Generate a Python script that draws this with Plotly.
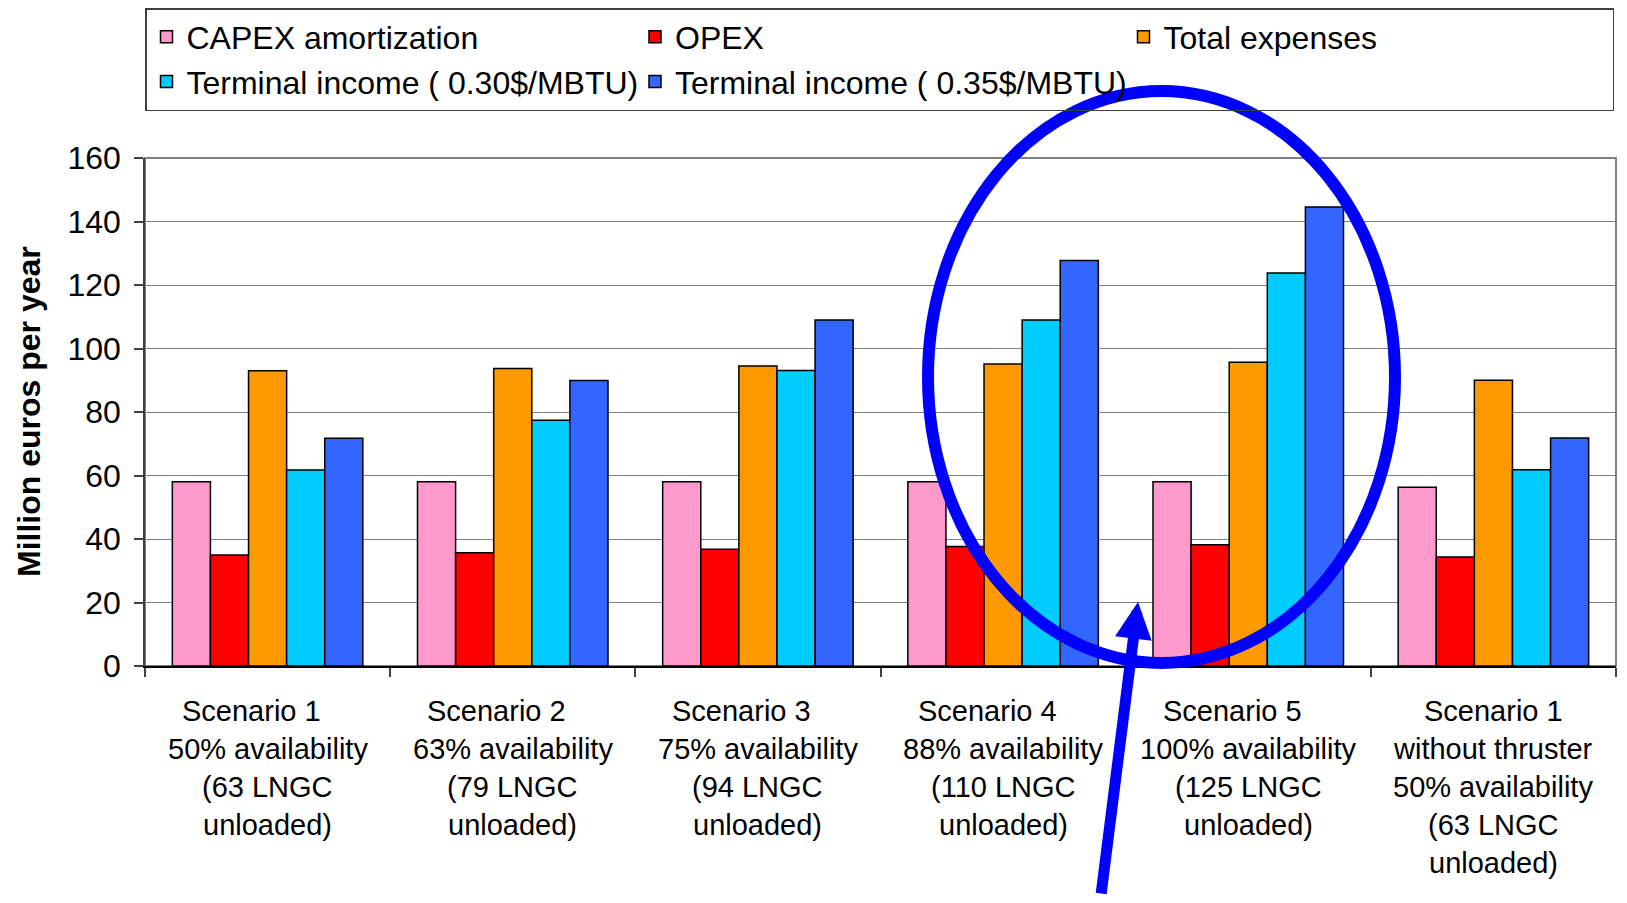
import plotly.graph_objects as go

# ---- data ----
categories = [
    "Scenario 1<br>50% availability<br>(63 LNGC<br>unloaded)",
    "Scenario 2<br>63% availability<br>(79 LNGC<br>unloaded)",
    "Scenario 3<br>75% availability<br>(94 LNGC<br>unloaded)",
    "Scenario 4<br>88% availability<br>(110 LNGC<br>unloaded)",
    "Scenario 5<br>100% availability<br>(125 LNGC<br>unloaded)",
    "Scenario 1<br>without thruster<br>50% availability<br>(63 LNGC<br>unloaded)",
]
capex = [58, 58, 58, 58, 58, 56.3]
opex = [35, 35.7, 36.8, 37.6, 38.2, 34.3]
total_expenses = [93, 93.7, 94.5, 95.1, 95.7, 90]
income_030 = [61.7, 77.4, 93.1, 109, 123.8, 61.8]
income_035 = [71.7, 89.9, 109, 127.7, 144.6, 71.8]

series_names = ["CAPEX amortization", "OPEX", "Total expenses",
                "Terminal income ( 0.30$/MBTU)", "Terminal income ( 0.35$/MBTU)"]
series_values = [capex, opex, total_expenses, income_030, income_035]
series_colors = ["#FF99CC", "#FF0000", "#FF9900", "#00CCFF", "#3366FF"]

y_ticks = [0, 20, 40, 60, 80, 100, 120, 140, 160]
y_title = "Million euros per year"

# ---- layout geometry ----
# page pixels of the target; the browser adds an 8px body margin
OFF = 8
W, H = 1627 - 2 * OFF, 903 - 2 * OFF
L, R, T, B = 145 - OFF, 1616 - OFF, 158 - OFF, 666 - OFF
FONT = "Liberation Sans, Arial, sans-serif"


def px_x(p):
    return (p - OFF - L) / (R - L)


def px_y(p):
    return (B - (p - OFF)) / (B - T)


fig = go.Figure()
for name, vals, col in zip(series_names, series_values, series_colors):
    fig.add_trace(go.Bar(
        x=categories, y=vals, name=name,
        marker=dict(color=col, line=dict(color="#000000", width=1.5)),
    ))

annotations = []
# category labels, one line at a time
for i, lab in enumerate(categories):
    lines = lab.split("<br>")
    for j, line in enumerate(lines):
        annotations.append(dict(
            x=lab, xref="x", y=0, yref="paper",
            text=line, showarrow=False,
            xanchor="center", yanchor="middle",
            yshift=-(45 + 37.9 * j),
            xshift=(-16 if (j == 0 and len(lines) == 4) else 0),
            font=dict(family=FONT, size=29, color="#000000"),
        ))

# y axis title
annotations.append(dict(
    x=px_x(29), xref="paper", y=0.5, yref="paper",
    text="<b>" + y_title + "</b>", showarrow=False, textangle=-90,
    xanchor="center", yanchor="middle",
    font=dict(family=FONT, size=32, color="#000000"),
))

# arrow
annotations.append(dict(
    x=px_x(1138), xref="paper", y=px_y(602), yref="paper",
    ax=-37, ay=305, text="", showarrow=True,
    arrowhead=2, arrowsize=0.67, arrowwidth=11, arrowcolor="#0000FF",
    standoff=0,
))

shapes = [
    dict(type="rect", xref="paper", yref="paper", x0=0, x1=1, y0=0, y1=1,
         line=dict(color="#808080", width=2), layer="below"),
    dict(type="circle", xref="paper", yref="paper",
         x0=px_x(928), x1=px_x(1395), y0=px_y(663), y1=px_y(91),
         line=dict(color="#0000FF", width=12), layer="above"),
]

fig.update_layout(
    width=W, height=H,
    margin=dict(l=L, r=W - R, t=T, b=H - B, autoexpand=False),
    paper_bgcolor="#FFFFFF", plot_bgcolor="#FFFFFF",
    font=dict(family=FONT, size=28, color="#000000"),
    barmode="group", bargap=0.223, bargroupgap=0,
    showlegend=True,
    legend=dict(
        orientation="h", x=0, xanchor="left", y=px_y(8), yanchor="top",
        bordercolor="#404040", borderwidth=1.5, bgcolor="rgba(255,255,255,0)",
        font=dict(family=FONT, size=32, color="#000000"),
        entrywidth=443.5, entrywidthmode="pixels",
        traceorder="normal",
    ),
    xaxis=dict(
        type="category", showticklabels=False, tickson="boundaries",
        ticks="outside", ticklen=9, tickcolor="#404040", tickwidth=1.5,
        showline=True, linecolor="#000000", linewidth=1.5,
        showgrid=False, zeroline=False, fixedrange=True,
    ),
    yaxis=dict(
        range=[0, 160], tickmode="array", tickvals=y_ticks,
        ticktext=[str(v) for v in y_ticks],
        ticks="outside", ticklen=9, tickcolor="#404040", tickwidth=1.5,
        ticklabelstandoff=7,
        tickfont=dict(family=FONT, size=32, color="#000000"),
        showline=True, linecolor="#404040", linewidth=1.5,
        showgrid=True, gridcolor="#808080", gridwidth=1,
        zeroline=False, fixedrange=True,
    ),
    annotations=annotations,
    shapes=shapes,
)

fig.write_html("out.html")
